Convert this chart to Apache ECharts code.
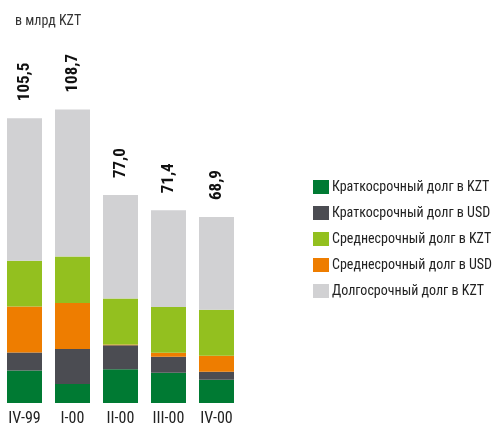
<!DOCTYPE html>
<html><head><meta charset="utf-8">
<script src="https://cdn.jsdelivr.net/npm/echarts@6/dist/echarts.min.js"></script>
<style>html,body{margin:0;padding:0;background:#fff}#c{width:498px;height:423px}</style>
</head><body><div id="c"></div>
<script>
var categories = ['IV-99','I-00','II-00','III-00','IV-00'];
var shortKZT = [12.0, 7.0, 12.5, 11.2, 8.6];
var shortUSD = [6.7, 13.0, 8.9, 5.9, 3.0];
var midUSD   = [17.0, 17.0, 0.3, 1.5, 5.9];
var midKZT   = [17.0, 17.3, 17.0, 17.0, 17.0];
var longKZT  = [52.8, 54.4, 38.3, 35.8, 34.4];
var totals   = ['105,5','108,7','77,0','71,4','68,9'];
var names = ['Краткосрочный долг в KZT','Краткосрочный долг в USD','Среднесрочный долг в KZT','Среднесрочный долг в USD','Долгосрочный долг в KZT'];
var colors = ['#007A33','#4B4C52','#93C01F','#EE7D00','#D1D1D3'];
var FONT = "'Liberation Sans Narrow','Roboto Condensed','Liberation Sans',sans-serif";

var chart = echarts.init(document.getElementById('c'), null, {renderer:'canvas'});
function s(name, data, color, label){
  var o = {name:name, type:'bar', stack:'t', data:data, barWidth:35, itemStyle:{color:color}, emphasis:{disabled:true}};
  if(label){
    o.label = {show:true, position:'top', rotate:90, align:'left', verticalAlign:'middle', distance:17,
      fontFamily:FONT, fontWeight:'bold', fontSize:17, color:'#111',
      formatter:function(p){return totals[p.dataIndex];}};
  }
  return o;
}
chart.setOption({
  animation:false,
  textStyle:{fontFamily:FONT},
  title:{text:'в млрд KZT', left:10, top:9, textStyle:{fontFamily:FONT, fontSize:14, fontWeight:'normal', color:'#333'}},
  legend:{orient:'vertical', left:313, top:180, padding:0, itemWidth:16, itemHeight:14, itemGap:12,
    icon:'rect', data:[names[0],names[1],names[2],names[3],names[4]],
    textStyle:{fontFamily:FONT, fontSize:14, color:'#222', padding:[0,0,0,-2]}},
  grid:{left:0.5, width:240, top:79, bottom:20, containLabel:false, outerBoundsMode:'none'},
  xAxis:{type:'category', data:categories, axisLine:{show:false}, axisTick:{show:false},
    axisLabel:{fontFamily:FONT, fontSize:16, color:'#222', margin:8}},
  yAxis:{type:'value', min:0, max:120, show:false, splitLine:{show:false}},
  series:[
    s(names[0], shortKZT, colors[0]),
    s(names[1], shortUSD, colors[1]),
    s(names[3], midUSD, colors[3]),
    s(names[2], midKZT, colors[2]),
    s(names[4], longKZT, colors[4], true)
  ]
});
</script></body></html>
